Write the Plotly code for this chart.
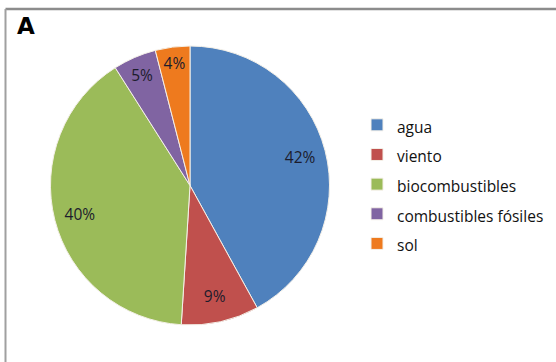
import plotly.graph_objects as go

categories = ["agua", "viento", "biocombustibles", "combustibles fósiles", "sol"]
values = [42, 9, 40, 5, 4]
colors = ["#4F81BD", "#C0504D", "#9BBB59", "#8064A2", "#EE7A1E"]
title_text = "A"

W, H = 556, 362
cx, cy, r = 190, 185.5, 139.5
dom_x = [(cx - r) / W, (cx + r) / W]
dom_y = [(H - cy - r) / H, (H - cy + r) / H]

FONT = "Open Sans"

fig = go.Figure()
fig.add_trace(go.Pie(
    labels=[f'<span style="font-size:15.5px">{c}</span>' for c in categories],
    values=values,
    sort=False,
    direction="clockwise",
    rotation=0,
    marker=dict(colors=colors, line=dict(color="#f4f0e8", width=1)),
    textinfo="none",
    hoverinfo="label+percent",
    domain=dict(x=dom_x, y=dom_y),
    showlegend=True,
))
# transparent ring overlay carrying the percentage labels near the rim
fig.add_trace(go.Pie(
    labels=categories,
    values=values,
    sort=False,
    direction="clockwise",
    rotation=0,
    hole=0.63,
    marker=dict(colors=["rgba(0,0,0,0)"] * len(values), line=dict(width=0)),
    textinfo="percent",
    texttemplate="%{percent:.0%}",
    textposition="inside",
    insidetextorientation="horizontal",
    textfont=dict(family=FONT, size=15.5, color="#1c1c2c"),
    domain=dict(x=dom_x, y=dom_y),
    showlegend=False,
    hoverinfo="skip",
))

top_y = 1 - 9 / H
left_x = 5.5 / W
fig.update_layout(
    width=W, height=H,
    margin=dict(l=0, r=0, t=0, b=0),
    paper_bgcolor="white",
    font=dict(family=FONT, color="#111"),
    uniformtext=dict(minsize=15, mode="show"),
    legend=dict(
        x=357 / W, xanchor="left",
        y=1 - 105 / H, yanchor="top",
        font=dict(family=FONT, size=20.5, color="#111"),
        bgcolor="rgba(0,0,0,0)",
    ),
    shapes=[
        dict(type="line", xref="paper", yref="paper",
             x0=left_x, x1=1, y0=top_y, y1=top_y,
             line=dict(color="#8c8c8c", width=2.5)),
        dict(type="line", xref="paper", yref="paper",
             x0=left_x, x1=left_x, y0=0, y1=top_y,
             line=dict(color="#a0a0a0", width=2)),
    ],
    annotations=[dict(
        text=f"<b>{title_text}</b>", xref="paper", yref="paper",
        x=15 / W, y=1 - 11 / H, xanchor="left", yanchor="top", showarrow=False,
        font=dict(family="DejaVu Sans", size=23, color="black"),
    )],
)

fig.write_html("out.html", config={"displayModeBar": False},
               post_script="document.body.style.margin='0';")
